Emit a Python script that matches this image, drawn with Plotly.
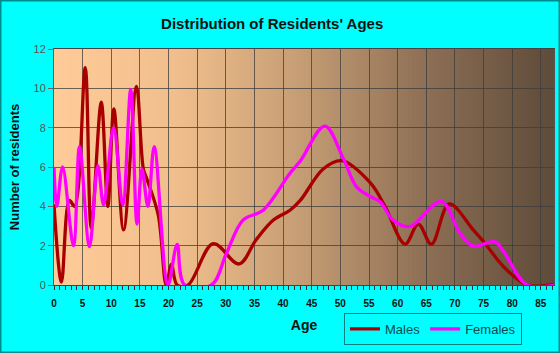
import plotly.graph_objects as go

# ---- data ----
male_age = [0, 1.3, 2.7, 3.6, 5.45, 6.5, 8.25, 9.4, 10.45, 12.15, 14.4, 15.6, 16.2, 18.2,
            19.6, 20.5, 21.5, 23.4, 27.8, 32.3, 35.3, 38.3, 41.2, 43, 47, 50.2, 55.2,
            57.8, 61.3, 63.6, 65.9, 69, 73.2, 75.3, 78.5, 82.6, 87.3]
male_val = [4.1, 0.15, 4.3, 4.0, 11.05, 2.9, 9.3, 4.0, 8.95, 2.8, 10.1, 5.9, 5.4, 3.56,
            0.0, 1.05, 0.0, 0.0, 2.1, 1.07, 2.3, 3.3, 3.8, 4.3, 5.9, 6.32, 5.2,
            4.0, 2.08, 3.1, 2.08, 4.12, 2.8, 2.1, 0.93, 0.0, 0.05]

female_age = [0, 0.5, 1.5, 3.4, 4.46, 6.2, 7.66, 8.66, 10.4, 12.0, 13.4, 14.5, 15.35, 16.4,
              17.5, 19.9, 21.5, 22.8, 27.5, 30.1, 33, 36.5, 41.2, 43, 47.3, 50.5, 52.8,
              55.2, 56.9, 59.2, 62.1, 67.6, 70.9, 73.2, 77, 78.5, 82.6, 87.3]
female_val = [6.0, 4.0, 6.0, 2.0, 7.03, 1.95, 6.07, 4.07, 8.0, 4.07, 9.95, 3.1, 5.9, 4.0,
              7.03, 0.0, 2.07, 0.0, 0.0, 1.6, 3.3, 3.8, 5.68, 6.3, 8.08, 6.44, 5.0,
              4.5, 4.24, 3.3, 2.97, 4.25, 2.63, 1.98, 2.2, 1.7, 0.0, 0.0]

x_ticks = list(range(0, 90, 5))
y_ticks = list(range(0, 13, 2))

# ---- figure ----
fig = go.Figure()
fig.add_trace(go.Scatter(x=male_age, y=male_val, name="Males", mode="lines",
                         line=dict(color="#A80000", width=3.3, shape="spline", smoothing=1.0)))
fig.add_trace(go.Scatter(x=female_age, y=female_val, name="Females", mode="lines",
                         line=dict(color="#FF00FF", width=3.3, shape="spline", smoothing=1.0)))

# horizontal background gradient
stops = [(0.0, (255, 204, 153)), (0.25, (240, 190, 140)), (0.5, (196, 156, 116)),
         (0.75, (140, 110, 84)), (1.0, (94, 75, 58))]


def interp(t):
    for (t0, c0), (t1, c1) in zip(stops[:-1], stops[1:]):
        if t0 <= t <= t1:
            f = (t - t0) / (t1 - t0)
            return "rgb(%d,%d,%d)" % tuple(round(a + (b - a) * f) for a, b in zip(c0, c1))
    return "rgb(%d,%d,%d)" % stops[-1][1]


n = 120
shapes = []
for i in range(n):
    shapes.append(dict(type="rect", xref="x domain", yref="y domain",
                       x0=i / n, x1=(i + 1) / n + 0.002, y0=0, y1=1,
                       fillcolor=interp((i + 0.5) / n), line=dict(width=0), layer="below"))
# outer border of the image
pw, ph = 500, 236
shapes.append(dict(type="rect", xref="paper", yref="paper",
                   x0=-54 / pw + 0.001, x1=1 + 6 / pw - 0.001,
                   y0=-68 / ph + 0.002, y1=1 + 49 / ph - 0.002,
                   line=dict(color="#008B8B", width=2), fillcolor="rgba(0,0,0,0)", layer="above"))

fig.update_layout(
    width=560, height=353,
    margin=dict(l=54, r=6, t=49, b=68),
    paper_bgcolor="#00FFFF",
    plot_bgcolor="#FFCC99",
    shapes=shapes,
    title=dict(text="Distribution of Residents' Ages", xref="container", yref="container",
               x=0.486, y=0.933, xanchor="center", yanchor="middle",
               font=dict(family="Liberation Sans", size=15, color="#111111", weight="bold")),
    legend=dict(orientation="h", x=0.936, xanchor="right", y=-0.118, yanchor="top",
                bgcolor="#00FFFF", bordercolor="#008080", borderwidth=1,
                font=dict(family="Liberation Sans", size=13, color="#0F4A4A"),
                itemwidth=30, tracegroupgap=0),
    showlegend=True,
)

fig.update_xaxes(
    range=[0, 87.3], tickvals=x_ticks, ticks="outside", ticklen=4, tickcolor="#333333",
    ticklabelstandoff=5,
    showgrid=True, gridcolor="rgba(60,60,60,0.75)", gridwidth=1,
    showline=True, linecolor="#444444", linewidth=1, mirror=True, zeroline=False,
    minor=dict(dtick=1, ticks="outside", ticklen=4, tickcolor="#333333", showgrid=False),
    tickfont=dict(family="Liberation Sans", size=10, color="#111111", weight="bold"),
    title=dict(text="Age", standoff=12,
               font=dict(family="Liberation Sans", size=14, color="#111111", weight="bold")),
)
fig.update_yaxes(
    range=[0, 12], tickvals=y_ticks, ticks="outside", ticklen=5, tickcolor="#666666",
    showgrid=True, gridcolor="rgba(60,60,60,0.75)", gridwidth=1,
    showline=True, linecolor="#555555", linewidth=1, mirror=True, zeroline=False,
    tickfont=dict(family="Liberation Sans", size=11, color="#555555"),
    title=dict(text="Number of residents", standoff=10,
               font=dict(family="Liberation Sans", size=13, color="#111111", weight="bold")),
)

fig.write_html("out.html")
